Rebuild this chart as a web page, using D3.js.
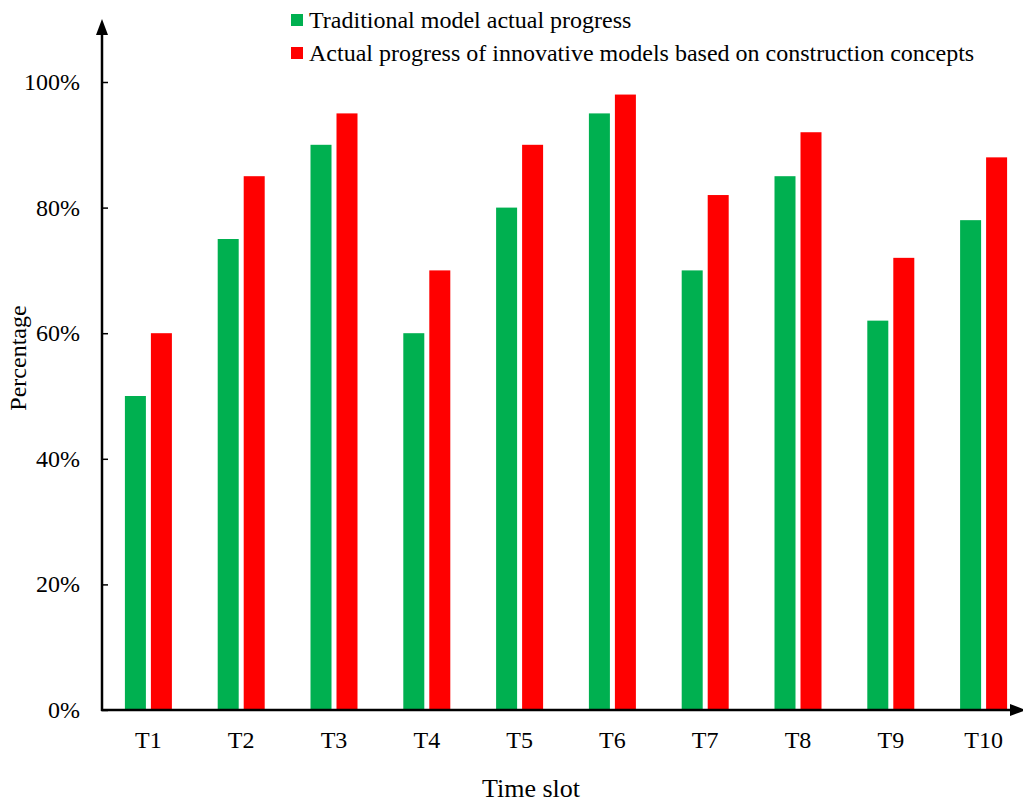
<!DOCTYPE html>
<html>
<head>
<meta charset="utf-8">
<script src="https://cdn.jsdelivr.net/npm/d3@7"></script>
<style>
  html, body { margin: 0; padding: 0; background: #fff; }
  svg { display: block; font-family: "Liberation Serif", "Times New Roman", serif; }
</style>
</head>
<body>
<svg id="chart" width="1023" height="802"></svg>
<script>
const categories = ["T1", "T2", "T3", "T4", "T5", "T6", "T7", "T8", "T9", "T10"];
const seriesNames = [
  "Traditional model actual progress",
  "Actual progress of innovative models based on construction concepts"
];
const traditional = [50, 75, 90, 60, 80, 95, 70, 85, 62, 78];
const innovative = [60, 85, 95, 70, 90, 98, 82, 92, 72, 88];
const yTicks = [0, 20, 40, 60, 80, 100];
const colors = ["#00b050", "#ff0000"];

const svg = d3.select("#chart");
const plotLeft = 102, plotBottom = 710, plotTop = 82, plotRight = 1030;

const x = d3.scaleBand().domain(categories).range([plotLeft, plotRight]).padding(0);
const y = d3.scaleLinear().domain([0, 100]).range([plotBottom, plotTop]);

const barW = 21, gap = 5;
const series = [traditional, innovative];

series.forEach((vals, si) => {
  svg.append("g").selectAll("rect")
    .data(vals)
    .join("rect")
    .attr("x", (d, i) => x(categories[i]) + x.bandwidth() / 2 - gap / 2 - barW + si * (barW + gap))
    .attr("y", d => y(d))
    .attr("width", barW)
    .attr("height", d => y(0) - y(d))
    .attr("fill", colors[si]);
});

// y axis with inward ticks
const yAxis = d3.axisRight(y).tickValues(yTicks).tickSize(6).tickFormat("");
const gy = svg.append("g").attr("transform", `translate(${plotLeft},0)`).call(yAxis);
gy.select(".domain").remove();
gy.selectAll(".tick line").attr("stroke", "#000").attr("stroke-width", 1.5);

svg.append("g").selectAll("text")
  .data(yTicks)
  .join("text")
  .attr("x", 80)
  .attr("y", d => y(d) + 8)
  .attr("text-anchor", "end")
  .attr("font-size", 24)
  .text(d => d + "%");

// x axis labels
const xAxis = d3.axisBottom(x).tickSize(0).tickPadding(21);
const gx = svg.append("g").attr("transform", `translate(0,${plotBottom})`).call(xAxis);
gx.select(".domain").remove();
gx.selectAll("text").attr("font-size", 24).attr("font-family", "Liberation Serif, Times New Roman, serif").attr("fill", "#000");

// axis lines with arrowheads
svg.append("line").attr("x1", plotLeft).attr("x2", plotLeft).attr("y1", plotBottom + 1).attr("y2", 30)
  .attr("stroke", "#000").attr("stroke-width", 2.5);
svg.append("path").attr("d", `M${plotLeft - 6},35 L${plotLeft},19 L${plotLeft + 6},35 Z`).attr("fill", "#000");

svg.append("line").attr("x1", plotLeft - 1).attr("x2", 1015).attr("y1", plotBottom).attr("y2", plotBottom)
  .attr("stroke", "#000").attr("stroke-width", 2.5);
svg.append("path").attr("d", `M1010,${plotBottom - 6} L1026,${plotBottom} L1010,${plotBottom + 6} Z`).attr("fill", "#000");

// axis titles
svg.append("text").attr("x", 531).attr("y", 797).attr("text-anchor", "middle")
  .attr("font-size", 26).text("Time slot");
svg.append("text").attr("transform", "translate(26,358) rotate(-90)").attr("text-anchor", "middle")
  .attr("font-size", 24).text("Percentage");

// legend
const legend = svg.append("g");
seriesNames.forEach((name, i) => {
  const ly = 14 + i * 33;
  legend.append("rect").attr("x", 291).attr("y", ly).attr("width", 12).attr("height", 12).attr("fill", colors[i]);
  legend.append("text").attr("x", 309).attr("y", ly + 14).attr("font-size", 24).text(name);
});
</script>
</body>
</html>
